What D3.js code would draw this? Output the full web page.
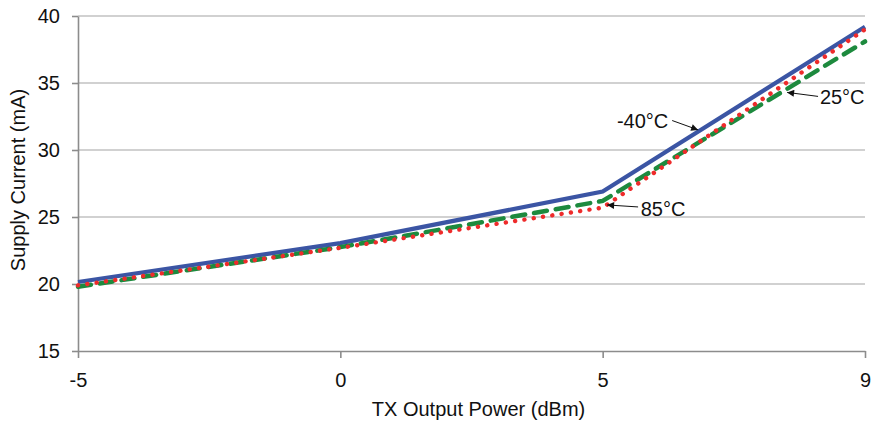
<!DOCTYPE html>
<html>
<head>
<meta charset="utf-8">
<script src="https://cdn.jsdelivr.net/npm/d3@7"></script>
<style>
  body { margin: 0; background: #fff; }
  text { font-family: "Liberation Sans", Arial, sans-serif; fill: #111; }
</style>
</head>
<body>
<div id="chart"></div>
<script>
// Data
const categories = ['-5', '0', '5', '9'];
const yTicks = [15, 20, 25, 30, 35, 40];
const minus40 = [20.15, 23.05, 26.9, 39.2];
const plus25 = [19.8, 22.75, 26.2, 38.1];
const plus85 = [19.9, 22.7, 25.7, 39.0];

// annotation: label, arrow start and tip, text position, in (category index, mA)
const labels = [
    { text: '-40°C', from: [2.265, 32.2], to: [2.364, 31.5], anchor: 'end', tx: [2.25, 32.15] },
    { text: '25°C', from: [2.821, 34.0], to: [2.703, 34.3], anchor: 'start', tx: [2.828, 33.95] },
    { text: '85°C', from: [2.135, 25.75], to: [2.017, 25.9], anchor: 'start', tx: [2.145, 25.6] }
];

const width = 875, height = 427;
const margin = { top: 16, right: 10, bottom: 76, left: 78 };
const innerWidth = width - margin.left - margin.right;
const innerHeight = height - margin.top - margin.bottom;
const FONT = '20px';

const svg = d3.select('#chart').append('svg')
    .attr('width', width)
    .attr('height', height)
    .append('g')
    .attr('transform', `translate(${margin.left},${margin.top})`);

const x = d3.scalePoint().domain(categories).range([0, innerWidth]);
const xIdx = d3.scaleLinear().domain([0, categories.length - 1]).range([0, innerWidth]);
const y = d3.scaleLinear().domain([15, 40]).range([innerHeight, 0]);

// gridlines
svg.append('g')
    .selectAll('line')
    .data(yTicks.slice(1))
    .join('line')
    .attr('x1', 0).attr('x2', innerWidth)
    .attr('y1', d => y(d)).attr('y2', d => y(d))
    .attr('stroke', '#a3a3a3')
    .attr('stroke-width', 1.2);

// axes
const xAxis = svg.append('g')
    .attr('transform', `translate(0,${innerHeight})`)
    .call(d3.axisBottom(x).tickSizeInner(7).tickSizeOuter(0).tickPadding(15));
const yAxis = svg.append('g')
    .call(d3.axisLeft(y).tickValues(yTicks).tickSizeInner(6).tickSizeOuter(0).tickPadding(12));

[xAxis, yAxis].forEach(a => {
    a.select('.domain').attr('stroke', '#8c8c8c').attr('stroke-width', 1.6);
    a.selectAll('.tick line').attr('stroke', '#8c8c8c').attr('stroke-width', 1.6);
    a.selectAll('.tick text')
        .style('font-family', '"Liberation Sans", Arial, sans-serif')
        .style('font-size', FONT)
        .attr('fill', '#111');
});

svg.append('text')
    .attr('x', innerWidth / 2 + 7)
    .attr('y', innerHeight + 65)
    .style('text-anchor', 'middle')
    .style('font-size', FONT)
    .text('TX Output Power (dBm)');

svg.append('text')
    .attr('transform', 'rotate(-90)')
    .attr('x', -(180 - margin.top))
    .attr('y', -53)
    .style('text-anchor', 'middle')
    .style('font-size', FONT)
    .text('Supply Current (mA)');

// series
const line = d3.line().x((d, i) => x(categories[i])).y(d => y(d));

svg.append('path')
    .datum(minus40)
    .attr('d', line)
    .attr('fill', 'none')
    .attr('stroke', '#3b55a4')
    .attr('stroke-width', 4.2);

svg.append('path')
    .datum(plus25)
    .attr('d', line)
    .attr('fill', 'none')
    .attr('stroke', '#1d8a3e')
    .attr('stroke-width', 4.5)
    .attr('stroke-dasharray', '13 9')
    .attr('stroke-linecap', 'round');

svg.append('path')
    .datum(plus85)
    .attr('d', line)
    .attr('fill', 'none')
    .attr('stroke', '#ee2b2b')
    .attr('stroke-width', 4.4)
    .attr('stroke-dasharray', '0.1 9.3')
    .attr('stroke-linecap', 'round');

// annotations
svg.append('defs').append('marker')
    .attr('id', 'arrow')
    .attr('viewBox', '0 0 10 10')
    .attr('refX', 10).attr('refY', 5)
    .attr('markerWidth', 11).attr('markerHeight', 7)
    .attr('markerUnits', 'userSpaceOnUse')
    .attr('orient', 'auto')
    .append('path')
    .attr('d', 'M0,0L10,5L0,10Z')
    .attr('fill', '#111');

const ann = svg.append('g');
ann.selectAll('line')
    .data(labels)
    .join('line')
    .attr('x1', d => xIdx(d.from[0])).attr('y1', d => y(d.from[1]))
    .attr('x2', d => xIdx(d.to[0])).attr('y2', d => y(d.to[1]))
    .attr('stroke', '#111')
    .attr('stroke-width', 1)
    .attr('marker-end', 'url(#arrow)');

ann.selectAll('text')
    .data(labels)
    .join('text')
    .attr('x', d => xIdx(d.tx[0]))
    .attr('y', d => y(d.tx[1]))
    .attr('dy', '0.36em')
    .style('text-anchor', d => d.anchor)
    .style('font-size', FONT)
    .text(d => d.text);
</script>
</body>
</html>
